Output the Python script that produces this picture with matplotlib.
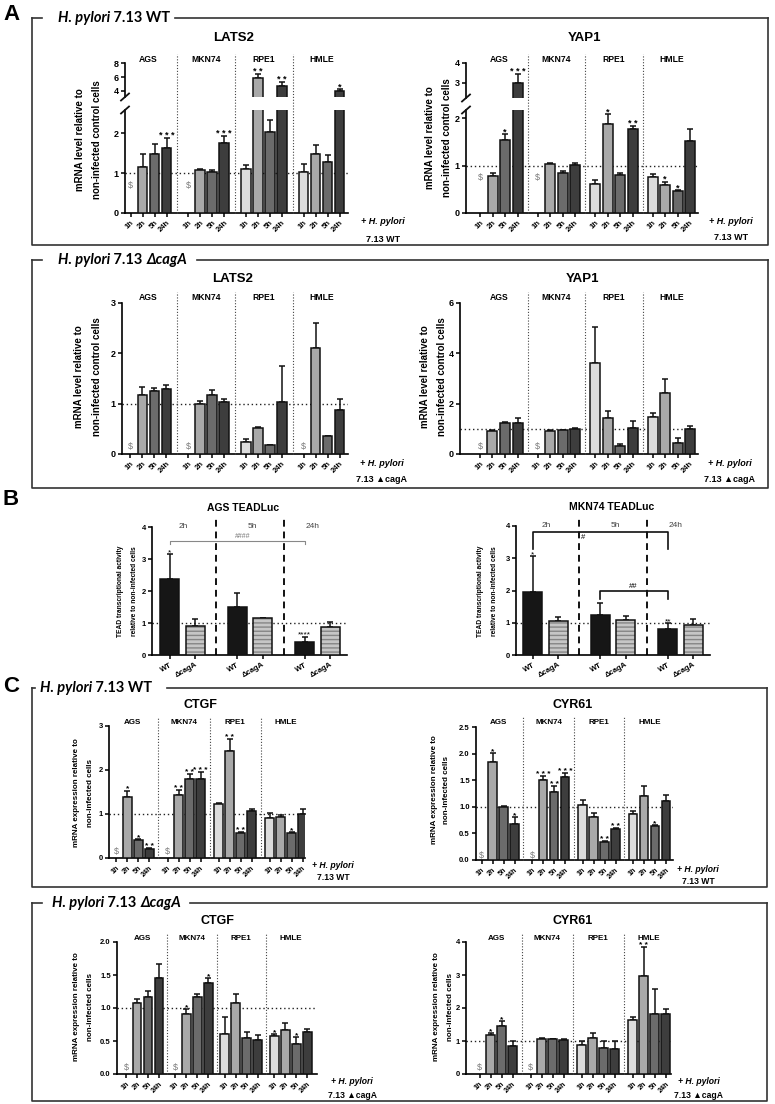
import numpy as np
import matplotlib
matplotlib.use("Agg")
import matplotlib.pyplot as plt
from matplotlib import transforms
from matplotlib.lines import Line2D
from matplotlib.text import Annotation
from matplotlib.ticker import FormatStrFormatter

plt.rcParams["font.family"] = ["Liberation Sans", "DejaVu Sans"]
plt.rcParams["font.weight"] = "bold"
plt.rcParams["hatch.linewidth"] = 1.0

W, H = 775, 1104
nan = np.nan

CELLS = ["AGS", "MKN74", "RPE1", "HMLE"]
TIMES = ["1h", "2h", "5h", "24h"]
TIME_COLORS = ["#dcdcdc", "#a9a9a9", "#6b6b6b", "#3d3d3d"]
NO_SIG = [""] * 16

# A - H. pylori 7.13 WT (ordre AGS, MKN74, RPE1, HMLE x 1h..24h)
lats2_wt = [nan, 1.15, 1.48, 1.62, nan, 1.07, 1.03, 1.75, 1.10, 5.85, 2.03, 4.78, 1.03, 1.48, 1.27, 4.00]
lats2_wt_err = [0, 0.33, 0.24, 0.25, 0, 0.03, 0.05, 0.18, 0.10, 0.55, 0.30, 0.57, 0.20, 0.22, 0.18, 0.20]
lats2_wt_sig = ["", "", "", "***", "", "", "", "***", "", "**", "", "**", "", "", "", "*"]

yap1_wt = [nan, 0.77, 1.53, 2.98, nan, 1.03, 0.85, 1.02, 0.62, 1.88, 0.80, 1.78, 0.76, 0.58, 0.46, 1.52]
yap1_wt_err = [0, 0.07, 0.13, 0.47, 0, 0.03, 0.03, 0.03, 0.08, 0.20, 0.05, 0.05, 0.06, 0.08, 0.02, 0.24]
yap1_wt_sig = ["", "", "*", "***", "", "", "", "", "", "*", "", "**", "", "*", "*", ""]

# A - H. pylori 7.13 dcagA
lats2_dc = [nan, 1.17, 1.25, 1.29, nan, 0.99, 1.18, 1.03, 0.23, 0.52, 0.17, 1.03, nan, 2.10, 0.35, 0.87]
lats2_dc_err = [0, 0.16, 0.07, 0.09, 0, 0.07, 0.10, 0.07, 0.07, 0.02, 0.01, 0.71, 0, 0.50, 0, 0.23]

yap1_dc = [nan, 0.92, 1.23, 1.22, nan, 0.93, 0.95, 1.00, 3.60, 1.43, 0.33, 1.02, 1.49, 2.43, 0.44, 0.98]
yap1_dc_err = [0, 0.03, 0.05, 0.21, 0, 0.03, 0.02, 0.02, 1.45, 0.29, 0.05, 0.31, 0.13, 0.54, 0.19, 0.15]

# B - TEAD luciferase
TEAD_TIMES = ["2h", "5h", "24h"]
STRAINS = ["WT", "ΔcagA"]
ags_tead_wt = [2.38, 1.50, 0.42]
ags_tead_wt_err = [0.77, 0.45, 0.15]
ags_tead_dc = [0.90, 1.15, 0.87]
ags_tead_dc_err = [0.21, 0.0, 0.15]
ags_tead_sig = ["*", "", "****"]

mkn_tead_wt = [1.94, 1.25, 0.80]
mkn_tead_wt_err = [1.12, 0.35, 0.18]
mkn_tead_dc = [1.04, 1.08, 0.93]
mkn_tead_dc_err = [0.14, 0.12, 0.20]
mkn_tead_sig = ["*", "", "**"]

# C - H. pylori 7.13 WT
ctgf_wt = [nan, 1.39, 0.41, 0.20, nan, 1.44, 1.80, 1.80, 1.22, 2.44, 0.56, 1.06, 0.92, 0.94, 0.56, 1.00]
ctgf_wt_err = [0, 0.14, 0.02, 0.02, 0, 0.10, 0.12, 0.15, 0.03, 0.27, 0.04, 0.05, 0.10, 0.04, 0.03, 0.11]
ctgf_wt_sig = ["", "*", "*", "**", "", "**", "**", "***", "", "**", "**", "", "", "", "*", ""]

cyr61_wt = [nan, 1.84, 0.99, 0.68, nan, 1.50, 1.28, 1.56, 1.03, 0.80, 0.34, 0.58, 0.86, 1.21, 0.64, 1.11]
cyr61_wt_err = [0, 0.17, 0.03, 0.12, 0, 0.08, 0.11, 0.08, 0.09, 0.09, 0.02, 0.02, 0.06, 0.18, 0.02, 0.11]
cyr61_wt_sig = ["", "*", "", "*", "", "***", "**", "***", "", "", "**", "**", "", "", "*", ""]

# C - H. pylori 7.13 dcagA
ctgf_dc = [nan, 1.07, 1.16, 1.45, nan, 0.91, 1.16, 1.38, 0.61, 1.08, 0.54, 0.51, 0.57, 0.66, 0.45, 0.64]
ctgf_dc_err = [0, 0.06, 0.10, 0.21, 0, 0.07, 0.05, 0.07, 0.26, 0.13, 0.10, 0.08, 0.03, 0.12, 0.11, 0.04]
ctgf_dc_sig = ["", "", "", "", "", "*", "", "*", "", "", "", "", "*", "", "*", ""]

cyr61_dc = [nan, 1.18, 1.45, 0.85, nan, 1.05, 1.05, 1.03, 0.88, 1.10, 0.80, 0.75, 1.63, 2.97, 1.81, 1.81]
cyr61_dc_err = [0, 0.05, 0.16, 0.15, 0, 0.05, 0.02, 0.04, 0.12, 0.15, 0.20, 0.25, 0.10, 0.88, 0.76, 0.17]
cyr61_dc_sig = ["", "*", "*", "", "", "", "", "", "", "", "", "", "", "**", "", ""]

A_YLABEL = ["mRNA level relative to", "non-infected control cells"]
B_YLABEL = ["TEAD transcriptional activity", "relative to non-infected cells"]
C_YLABEL = ["mRNA expression relative to", "non-infected cells"]

fig = plt.figure(figsize=(W / 100, H / 100), dpi=100)


def fx(x):
    return x / W


def fy(y):
    return 1 - y / H


def spaced(s):
    # les étoiles de Prism sont espacées
    return " ".join(s)


def new_ax(x0, x1, ytop, ybot, ysize):
    ax = fig.add_axes([fx(x0), fy(ybot), (x1 - x0) / W, (ybot - ytop) / H])
    ax.patch.set_alpha(0)
    ax.spines[["top", "right"]].set_visible(False)
    ax.spines[["left", "bottom"]].set_linewidth(1.2)
    ax.tick_params(width=1.1, length=3, pad=1.5, labelsize=ysize)
    return ax


def time_positions(step):
    return np.array([g * step + t for g in range(4) for t in range(4)], dtype=float)


def draw_bars(ax, pos, vals, errs):
    vals = np.asarray(vals, dtype=float)
    errs = np.asarray(errs, dtype=float)
    ok = ~np.isnan(vals)
    cols = np.array(TIME_COLORS * 4)[ok]
    ax.errorbar(pos[ok], vals[ok], yerr=[np.zeros(ok.sum()), errs[ok]], fmt="none",
                ecolor="#111111", elinewidth=1.1, capsize=2.4, capthick=1.1, zorder=2)
    ax.bar(pos[ok], vals[ok], width=0.8, color=cols, edgecolor="#111111", linewidth=1.1, zorder=3)


def time_axis(ax, pos, xlim, size):
    ax.set_xlim(xlim)
    ax.set_xticks(pos)
    ax.set_xticklabels(TIMES * 4, rotation=45, ha="right", rotation_mode="anchor", fontsize=size)
    ax.axhline(1, ls=(0, (1, 2)), color="#222222", lw=1.0, zorder=1)


def cell_header(ax, step, ybot_px, label_y, div_top, size):
    tr = transforms.blended_transform_factory(ax.transData, fig.transFigure)
    for g, name in enumerate(CELLS):
        ax.text(g * step + 1.5, fy(label_y), name, transform=tr, ha="center", va="center", fontsize=size)
    for g in range(3):
        m = (g * step + 3 + (g + 1) * step) / 2
        fig.add_artist(Line2D([m, m], [fy(ybot_px), fy(div_top)], transform=tr,
                              color="#444444", lw=0.8, ls=(0, (1, 1.6))))


def sig_marks(ax, pos, vals, errs, sig, size):
    for p, v, e, s in zip(pos, vals, errs, sig):
        if s:
            ax.text(p, v + e, spaced(s), ha="center", va="baseline", fontsize=size)


def dollar_marks(ax, pos, vals, y, size=6.5):
    for p, v in zip(pos, vals):
        if np.isnan(v):
            ax.text(p, y, "$", ha="center", va="center", fontsize=size, color="#7a7a7a", fontweight="normal")


def ftext(x, y, s, size, **kw):
    kw.setdefault("ha", "center")
    kw.setdefault("va", "center")
    return fig.text(fx(x), fy(y), s, fontsize=size, **kw)


def ylabel2(x1, x2, y, lines, size):
    ftext(x1, y, lines[0], size, rotation=90)
    ftext(x2, y, lines[1], size, rotation=90)


def infection(cx, y1, y2, strain, size=6.5):
    ftext(cx, y1, "+ H. pylori", size, style="italic")
    ftext(cx, y2, "7.13 " + strain, size)


def gene_chart(x0, x1, ytop, ybot, xlim, step, vals, errs, sig, ylim, yticks, dollar_y,
               ysize=6.5, tsize=5.5, ssize=6.5, yfmt=None):
    pos = time_positions(step)
    ax = new_ax(x0, x1, ytop, ybot, ysize)
    draw_bars(ax, pos, vals, errs)
    time_axis(ax, pos, xlim, tsize)
    ax.set_ylim(ylim)
    ax.set_yticks(yticks)
    if yfmt:
        ax.yaxis.set_major_formatter(FormatStrFormatter(yfmt))
    sig_marks(ax, pos, vals, errs, sig, ssize)
    dollar_marks(ax, pos, vals, dollar_y)
    return ax, pos


def broken_chart(x0, x1, hi_px, lo_px, xlim, step, vals, errs, sig, lo_ylim, hi_ylim, lo_ticks, hi_ticks):
    pos = time_positions(step)
    lo = new_ax(x0, x1, lo_px[0], lo_px[1], 6.5)
    hi = new_ax(x0, x1, hi_px[0], hi_px[1], 6.5)
    hi.spines["bottom"].set_visible(False)
    hi.tick_params(axis="x", bottom=False, labelbottom=False)
    for ax in (lo, hi):
        draw_bars(ax, pos, vals, errs)
    time_axis(lo, pos, xlim, 5.5)
    hi.set_xlim(xlim)
    lo.set_ylim(lo_ylim)
    lo.set_yticks(lo_ticks)
    hi.set_ylim(hi_ylim)
    hi.set_yticks(hi_ticks)
    for p, v, e, s in zip(pos, vals, errs, sig):
        if s:
            top = v + e
            ax = hi if top > lo_ylim[1] else lo
            ax.text(p, top, spaced(s), ha="center", va="baseline", fontsize=6.5)
    for ypx in (hi_px[1], lo_px[0]):
        fig.add_artist(Line2D([fx(x0 - 4), fx(x0 + 4)], [fy(ypx + 3.5), fy(ypx - 3.5)], color="#111111", lw=1.3))
    return lo, hi, pos


def tead_chart(x0, x1, ytop, ybot, xlim, wt, wt_err, dc, dc_err, sig):
    ax = new_ax(x0, x1, ytop, ybot, 5.5)
    pw = np.arange(3) * 2.65
    pd = pw + 1
    ekw = dict(fmt="none", ecolor="#111111", elinewidth=1.1, capsize=2.5, capthick=1.1, zorder=2)
    ax.errorbar(pw, wt, yerr=[np.zeros(3), wt_err], **ekw)
    ax.errorbar(pd, dc, yerr=[np.zeros(3), dc_err], **ekw)
    ax.bar(pw, wt, 0.75, color="#161616", edgecolor="#111111", linewidth=1.1, zorder=3)
    ax.bar(pd, dc, 0.75, color="#c6c6c6", hatch="----", edgecolor="#868686", linewidth=0, zorder=3)
    ax.bar(pd, dc, 0.75, fill=False, edgecolor="#111111", linewidth=1.1, zorder=4)
    ax.set_xlim(xlim)
    ax.set_ylim(0, 4)
    ax.set_yticks(range(5))
    ax.set_xticks(np.ravel(np.column_stack([pw, pd])))
    ax.set_xticklabels(STRAINS * 3, rotation=30, ha="right", rotation_mode="anchor", fontsize=5.5)
    ax.axhline(1, ls=(0, (1, 2)), color="#222222", lw=1.0, zorder=1)
    for m in ((pd[0] + pw[1]) / 2, (pd[1] + pw[2]) / 2):
        ax.plot([m, m], [0, 4.3], color="#111111", lw=1.4, ls=(0, (3.5, 2.5)), clip_on=False, zorder=1)
    for x, t in zip([0.55, 3.25, 5.6], TEAD_TIMES):
        ax.text(x, 4.03, t, ha="center", va="center", fontsize=6, fontweight="normal", color="#444444")
    for p, v, e, s in zip(pw, wt, wt_err, sig):
        if s:
            ax.text(p, v + e, s, ha="center", va="baseline", fontsize=6, fontweight="normal")
    return ax, pw, pd


def frame(x0, x1, y0, y1, gap):
    kw = dict(color="#333333", lw=1.2)
    fig.add_artist(Line2D([fx(x0), fx(gap[0])], [fy(y0), fy(y0)], **kw))
    fig.add_artist(Line2D([fx(gap[1]), fx(x1)], [fy(y0), fy(y0)], **kw))
    fig.add_artist(Line2D([fx(x0), fx(x0), fx(x1), fx(x1)], [fy(y0), fy(y1), fy(y1), fy(y0)], **kw))


def header(x, y, pieces, size=10.5):
    prev = None
    for s, style in pieces:
        kw = dict(fontsize=size, fontweight="bold", fontstyle=style, family=["Lato", "DejaVu Sans"])
        if prev is None:
            prev = fig.text(fx(x), fy(y), s, ha="left", va="center", **kw)
        else:
            a = Annotation(s, xy=(1, 0), xycoords=prev, ha="left", va="bottom", **kw)
            fig.add_artist(a)
            prev = a


# ---------------- A ----------------
ftext(11, 14, "A", 16)
frame(32, 768, 18, 245, (42, 175))
header(58, 18, [("H. pylori", "italic"), (" 7.13 WT", "normal")])

lo, hi, pos = broken_chart(125, 348, (63.5, 97), (110, 213), (-0.46, 18.1), 4.8,
                           lats2_wt, lats2_wt_err, lats2_wt_sig, (0, 2.58), (3.1, 8.0), [0, 1, 2], [4, 6, 8])
cell_header(lo, 4.8, 213, 59, 54, 6.2)
dollar_marks(lo, pos, lats2_wt, 0.7)
ftext(234, 38, "LATS2", 9.5)
ylabel2(80, 97, 140, A_YLABEL, 7)
infection(383, 222, 240, "WT")

lo, hi, pos = broken_chart(466, 698, (63, 98), (110, 213), (-1.12, 17.44), 4.6,
                           yap1_wt, yap1_wt_err, yap1_wt_sig, (0, 2.17), (2.25, 4.0), [0, 1, 2], [3, 4])
cell_header(lo, 4.6, 213, 59, 54, 6.2)
dollar_marks(lo, pos, yap1_wt, 0.75)
ftext(584, 38, "YAP1", 9.5)
ylabel2(430, 447, 138, A_YLABEL, 7)
infection(731, 222, 238, "WT")

frame(32, 768, 260, 488, (42, 197))
header(58, 260, [("H. pylori", "italic"), (" 7.13 ", "normal"), ("ΔcagA", "italic")])

ax, pos = gene_chart(122, 348, 303, 454, (-0.7, 18.1), 4.8, lats2_dc, lats2_dc_err, NO_SIG,
                     (0, 3), [0, 1, 2, 3], 0.14)
cell_header(ax, 4.8, 454, 297, 292, 6.2)
ftext(233, 279, "LATS2", 9.5)
ylabel2(79, 97, 377, A_YLABEL, 7)
infection(382, 464, 480, "▲cagA")

ax, pos = gene_chart(460, 698, 303, 454, (-1.6, 17.44), 4.6, yap1_dc, yap1_dc_err, NO_SIG,
                     (0, 6), [0, 2, 4, 6], 0.28)
cell_header(ax, 4.6, 454, 297, 292, 6.2)
ftext(583, 279, "YAP1", 9.5)
ylabel2(425, 442, 377, A_YLABEL, 7)
infection(730, 464, 480, "▲cagA")

# ---------------- B ----------------
ftext(11, 499, "B", 16)

ax, pw, pd = tead_chart(152, 347, 527, 655, (-0.69, 6.96), ags_tead_wt, ags_tead_wt_err,
                        ags_tead_dc, ags_tead_dc_err, ags_tead_sig)
ax.plot([pw[0], pw[0], pw[2], pw[2]], [3.48, 3.55, 3.55, 3.48], color="#888888", lw=0.8, clip_on=False)
ax.text((pw[0] + pw[2]) / 2 + 0.2, 3.6, "####", ha="center", va="bottom", fontsize=5, fontweight="normal", color="#777777")
ftext(243, 508, "AGS TEADLuc", 7.5)
ylabel2(121, 134, 591, B_YLABEL, 4.8)

ax, pw, pd = tead_chart(516, 710, 526, 655, (-0.65, 6.96), mkn_tead_wt, mkn_tead_wt_err,
                        mkn_tead_dc, mkn_tead_dc_err, mkn_tead_sig)
ax.plot([pw[0], pw[0], pw[2], pw[2]], [3.3, 3.8, 3.8, 3.3], color="#111111", lw=1.2, clip_on=False)
ax.plot([pw[1], pw[1], pw[2], pw[2]], [1.73, 2.0, 2.0, 1.73], color="#111111", lw=1.2)
ax.text(1.98, 3.64, "#", ha="center", va="center", fontsize=5.5, fontweight="normal")
ax.text(3.94, 2.12, "##", ha="center", va="center", fontsize=5.5, fontweight="normal")
ftext(612, 507, "MKN74 TEADLuc", 7.5)
ylabel2(481, 494, 591, B_YLABEL, 4.8)

# ---------------- C ----------------
ftext(11, 686, "C", 16)
frame(32, 767, 688, 887, (35, 167))
header(40, 688, [("H. pylori", "italic"), (" 7.13 WT", "normal")])

ax, pos = gene_chart(109, 305, 726, 858, (-0.68, 17.14), 4.64, ctgf_wt, ctgf_wt_err, ctgf_wt_sig,
                     (0, 3), [0, 1, 2, 3], 0.14, ysize=5.5, tsize=5.2, ssize=6)
cell_header(ax, 4.64, 858, 722, 717, 5.8)
ftext(200, 705, "CTGF", 9)
ylabel2(76, 90, 793, C_YLABEL, 5.8)
infection(333, 865, 878, "WT", 6.2)

ax, pos = gene_chart(476, 673, 727, 860, (-0.5, 17.4), 4.59, cyr61_wt, cyr61_wt_err, cyr61_wt_sig,
                     (0, 2.5), [0, 0.5, 1.0, 1.5, 2.0, 2.5], 0.09, ysize=5.5, tsize=5.2, ssize=6, yfmt="%.1f")
cell_header(ax, 4.59, 860, 722, 717, 5.8)
ftext(573, 705, "CYR61", 9)
ylabel2(434, 447, 790, C_YLABEL, 5.8)
infection(698, 869, 882, "WT", 6.2)

frame(32, 767, 903, 1101, (42, 190))
header(52, 903, [("H. pylori", "italic"), (" 7.13 ", "normal"), ("ΔcagA", "italic")])

ax, pos = gene_chart(117, 317, 942, 1074, (-0.82, 17.4), 4.5, ctgf_dc, ctgf_dc_err, ctgf_dc_sig,
                     (0, 2.0), [0, 0.5, 1.0, 1.5, 2.0], 0.1, ysize=5.5, tsize=5.2, ssize=6, yfmt="%.1f")
cell_header(ax, 4.5, 1074, 938, 933, 5.8)
ftext(217, 921, "CTGF", 9)
ylabel2(76, 91, 1007, C_YLABEL, 5.8)
infection(352, 1082, 1096, "▲cagA", 6.2)

ax, pos = gene_chart(466, 671, 942, 1074, (-1.23, 17.4), 4.64, cyr61_dc, cyr61_dc_err, cyr61_dc_sig,
                     (0, 4), [0, 1, 2, 3, 4], 0.2, ysize=5.5, tsize=5.2, ssize=6)
cell_header(ax, 4.64, 1074, 938, 933, 5.8)
ftext(573, 921, "CYR61", 9)
ylabel2(436, 450, 1007, C_YLABEL, 5.8)
infection(699, 1082, 1096, "▲cagA", 6.2)

fig.savefig("out.png", dpi=100)
